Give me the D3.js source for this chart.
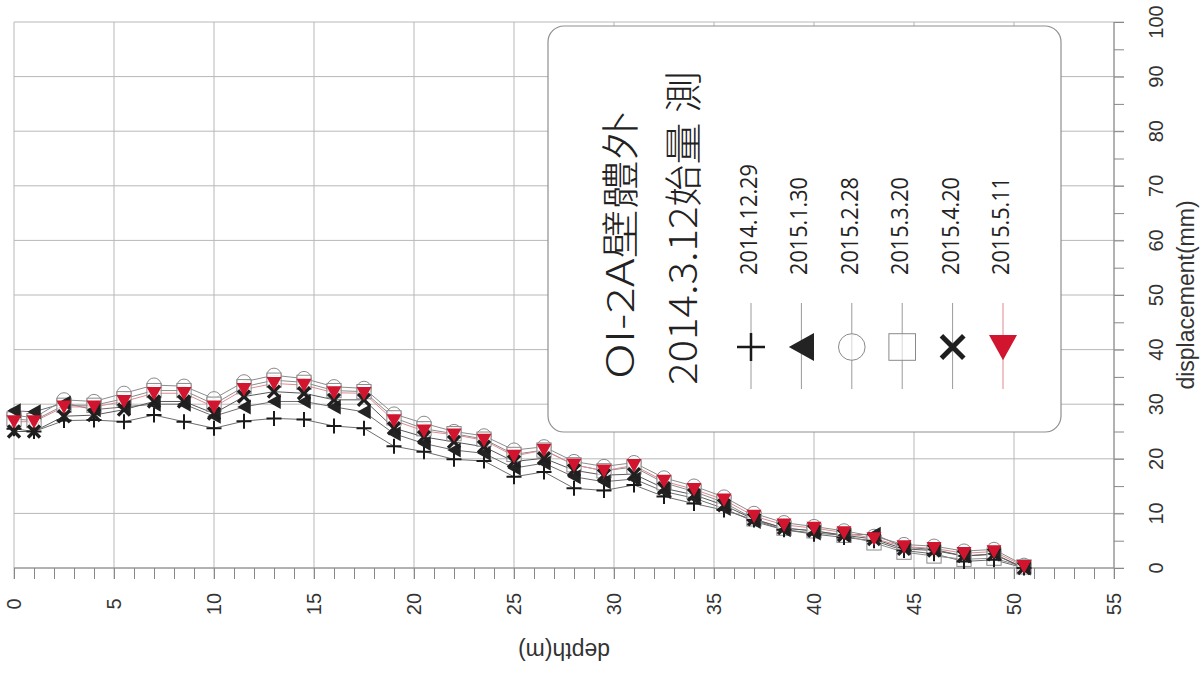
<!DOCTYPE html>
<html>
<head>
<meta charset="utf-8">
<script src="https://cdn.jsdelivr.net/npm/d3@7"></script>
<style>
  html, body { margin: 0; padding: 0; background: #fff; }
  svg { display: block; }
</style>
</head>
<body>
<svg id="chart" width="1200" height="675"></svg>
<script>
// ---------- DATA ----------
const depths = [0, 1, 2.5, 4, 5.5, 7, 8.5, 10, 11.5, 13, 14.5, 16, 17.5, 19, 20.5, 22, 23.5, 25, 26.5, 28, 29.5, 31, 32.5, 34, 35.5, 37, 38.5, 40, 41.5, 43, 44.5, 46, 47.5, 49, 50.5];

const seriesNames = ["2014.12.29", "2015.1.30", "2015.2.28", "2015.3.20", "2015.4.20", "2015.5.11"];

const s20141229 = [25.5, 25, 27, 27.1, 26.8, 28, 26.8, 25.6, 26.9, 27.4, 27.2, 26, 25.6, 22.3, 21.3, 19.9, 19.6, 16.7, 17.6, 14.6, 14.2, 15.2, 13.1, 11.8, 10.6, 8.8, 7, 6.2, 5.6, 5, 3.2, 2.6, 1.2, 1.5, 0];
const s20150130 = [28.8, 28.6, 30.2, 29, 29.5, 30, 30, 27.8, 29.5, 30.5, 30.5, 29.5, 28.6, 24.6, 22.8, 21.6, 21, 18.3, 19.2, 16.7, 15.8, 16.3, 14, 12.8, 10.9, 8.5, 7, 6.4, 6, 6.2, 3.8, 3.4, 2.2, 2.6, 0];
const s20150228 = [28, 27.5, 30.8, 30.5, 32, 33.5, 33.3, 31, 34.1, 35.3, 34.7, 33.2, 32.9, 28.2, 26.5, 25, 24.2, 21.6, 22.2, 19.5, 18.6, 19.3, 16.5, 15, 13, 10, 8.3, 7.6, 6.8, 5.8, 4.3, 4, 3.1, 3.4, 0.5];
const s20150320 = [27.3, 27, 29.8, 29.8, 31, 32.5, 32.5, 30, 33.2, 34.4, 34, 32.5, 32.3, 27.5, 25.5, 24.6, 23.6, 20.8, 21.6, 18.9, 17.8, 18.5, 15.6, 14, 12, 9, 7.3, 6.8, 6, 4.6, 2.9, 2.2, 1.6, 1.8, 0.2];
const s20150420 = [25, 25, 27.8, 28, 29, 30.5, 30.5, 28.3, 31.4, 32.3, 32, 30.8, 30.8, 25.6, 24, 23.1, 22.2, 19.5, 20.1, 17.9, 17, 17.2, 14.6, 13.4, 11.5, 8.9, 7.3, 6.8, 6, 5.3, 3.5, 3.2, 2.2, 2.5, 0];
const s20150511 = [26.8, 26.8, 29.5, 29.5, 30.5, 32, 32, 29.5, 32.7, 33.8, 33.5, 32.1, 32, 27, 25.1, 24.4, 23.4, 20.5, 21.6, 18.9, 17.8, 18.8, 15.9, 14.4, 12.5, 9.5, 7.9, 7.3, 6.5, 5.4, 3.9, 3.6, 2.7, 3.0, 0.3];

const xTicks = [0, 5, 10, 15, 20, 25, 30, 35, 40, 45, 50, 55];
const yTicks = [0, 10, 20, 30, 40, 50, 60, 70, 80, 90, 100];
const titleLine1 = "OI-2A壁體外";
const titleLine2 = "2014.3.12始量 測";
const xLabel = "depth(m)";
const yLabel = "displacement(mm)";

// ---------- SETUP ----------
const svg = d3.select("#chart");
const x = d3.scaleLinear().domain([0, 55]).range([14, 1114]);
const y = d3.scaleLinear().domain([0, 100]).range([568, 22]);

const gridColor = "#b8b8b8";
const axisColor = "#888";
const numFont = "'Liberation Sans', Arial, sans-serif";

// grid
const grid = svg.append("g");
grid.selectAll("line.v").data(xTicks).join("line")
  .attr("x1", d => x(d)).attr("x2", d => x(d))
  .attr("y1", y(100)).attr("y2", y(0) + 11)
  .attr("stroke", gridColor).attr("stroke-width", 1);
grid.selectAll("line.h").data(yTicks).join("line")
  .attr("x1", x(0)).attr("x2", x(55) + 10)
  .attr("y1", d => y(d)).attr("y2", d => y(d))
  .attr("stroke", gridColor).attr("stroke-width", 1);

// bottom axis (minor ticks every 1 m)
const xAxis = d3.axisBottom(x).tickValues(d3.range(0, 56, 1)).tickSize(11).tickFormat("");
const gx = svg.append("g").attr("transform", `translate(0,${y(0)})`).call(xAxis);
gx.select(".domain").attr("stroke", axisColor).attr("d", `M${x(0)},0H${x(55)}`);
gx.selectAll(".tick line").attr("stroke", axisColor);

// right axis (ticks every 5 mm)
const yAxis = d3.axisRight(y).tickValues(d3.range(0, 101, 5)).tickSize(10).tickFormat("");
const gy = svg.append("g").attr("transform", `translate(${x(55)},0)`).call(yAxis);
gy.select(".domain").attr("stroke", axisColor).attr("d", `M0,${y(0)}V${y(100)}`);
gy.selectAll(".tick line").attr("stroke", axisColor);

// tick labels (rotated)
svg.append("g").selectAll("text").data(xTicks).join("text")
  .attr("transform", d => `translate(${x(d)},604) rotate(-90)`)
  .attr("text-anchor", "middle").attr("dominant-baseline", "central")
  .attr("font-family", numFont).attr("font-size", 20).attr("fill", "#333")
  .text(d => d);
svg.append("g").selectAll("text").data(yTicks).join("text")
  .attr("transform", d => `translate(1156,${y(d)}) rotate(-90)`)
  .attr("text-anchor", "middle").attr("dominant-baseline", "central")
  .attr("font-family", numFont).attr("font-size", 20).attr("fill", "#333")
  .text(d => d);

// axis titles
svg.append("text")
  .attr("transform", `translate(${(x(0) + x(55)) / 2},651) rotate(180)`)
  .attr("text-anchor", "middle").attr("dominant-baseline", "central")
  .attr("font-family", numFont).attr("font-size", 23).attr("fill", "#333")
  .text(xLabel);
svg.append("text")
  .attr("transform", `translate(1186,${(y(0) + y(100)) / 2}) rotate(-90)`)
  .attr("text-anchor", "middle").attr("dominant-baseline", "central")
  .attr("font-family", numFont).attr("font-size", 23).attr("fill", "#333")
  .text(yLabel);

// ---------- MARKERS ----------
function drawMarker(g, kind, s) {
  if (kind === "plus") {
    g.append("path").attr("d", `M${-s},0H${s}M0,${-s}V${s}`)
      .attr("stroke", "#1a1a1a").attr("stroke-width", s > 10 ? 2.5 : 2).attr("fill", "none");
  } else if (kind === "triLeft") {
    g.append("path").attr("d", `M${-s * 0.9},0L${s * 0.9},${-s}L${s * 0.9},${s}Z`)
      .attr("fill", "#232323");
  } else if (kind === "circle") {
    g.append("circle").attr("r", s * 0.95)
      .attr("fill", "#fff").attr("fill-opacity", 0.6).attr("stroke", "#8a8a8a").attr("stroke-width", 1);
  } else if (kind === "square") {
    g.append("rect").attr("x", -s * 0.95).attr("y", -s * 0.95).attr("width", s * 1.9).attr("height", s * 1.9)
      .attr("fill", "#fff").attr("fill-opacity", 0.6).attr("stroke", "#8a8a8a").attr("stroke-width", 1);
  } else if (kind === "cross") {
    const k = s * 0.8;
    g.append("path").attr("d", `M${-k},${-k}L${k},${k}M${-k},${k}L${k},${-k}`)
      .attr("stroke", "#1f1f1f").attr("stroke-width", s > 10 ? 5 : 3.4).attr("fill", "none");
  } else if (kind === "triDown") {
    g.append("path").attr("d", `M${-s},${-s * 0.85}L${s},${-s * 0.85}L0,${s * 0.95}Z`)
      .attr("fill", "#d1152f");
  }
}

const series = [
  { name: seriesNames[0], values: s20141229, kind: "plus",    line: "#6e6e6e" },
  { name: seriesNames[1], values: s20150130, kind: "triLeft", line: "#6e6e6e" },
  { name: seriesNames[2], values: s20150228, kind: "circle",  line: "#8c8c8c" },
  { name: seriesNames[3], values: s20150320, kind: "square",  line: "#8c8c8c" },
  { name: seriesNames[4], values: s20150420, kind: "cross",   line: "#5a5a5a" },
  { name: seriesNames[5], values: s20150511, kind: "triDown", line: "#e08a90" }
];

// lines
const lineGen = d3.line().x(d => x(d[0])).y(d => y(d[1]));
svg.append("g").selectAll("path").data(series).join("path")
  .attr("d", s => lineGen(depths.map((dp, i) => [dp, s.values[i]])))
  .attr("fill", "none").attr("stroke", s => s.line).attr("stroke-width", 1);

// markers in draw order (open ones first, red last)
const order = [2, 3, 0, 1, 4, 5];
order.forEach(si => {
  const s = series[si];
  const g = svg.append("g");
  depths.forEach((dp, i) => {
    const mg = g.append("g").attr("transform", `translate(${x(dp)},${y(s.values[i])})`);
    drawMarker(mg, s.kind, 7.5);
  });
});

// ---------- LEGEND ----------
const lg = svg.append("g");
lg.append("rect").attr("x", 548).attr("y", 26).attr("width", 513).attr("height", 406)
  .attr("rx", 16).attr("ry", 16)
  .attr("fill", "#fff").attr("stroke", "#8f8f8f").attr("stroke-width", 1.2);

const cjkFont = "'Noto Sans CJK TC', 'Noto Sans CJK SC', sans-serif";
lg.append("text")
  .attr("transform", "translate(617,379) rotate(-90)")
  .attr("dominant-baseline", "central").attr("text-anchor", "start")
  .attr("font-family", cjkFont).attr("font-size", 38).attr("font-weight", 300).attr("fill", "#222")
  .attr("textLength", 268).attr("lengthAdjust", "spacingAndGlyphs")
  .text(titleLine1);
lg.append("text")
  .attr("transform", "translate(680,385) rotate(-90)")
  .attr("dominant-baseline", "central").attr("text-anchor", "start")
  .attr("font-family", cjkFont).attr("font-size", 38).attr("font-weight", 300).attr("fill", "#222")
  .attr("textLength", 314).attr("lengthAdjust", "spacingAndGlyphs")
  .text(titleLine2);

const legendX = d3.scalePoint().domain(seriesNames).range([751, 1003]);
series.forEach(s => {
  const cx = legendX(s.name);
  lg.append("line").attr("x1", cx).attr("x2", cx).attr("y1", 303).attr("y2", 389)
    .attr("stroke", s.kind === "triDown" ? "#e08a90" : "#9a9a9a").attr("stroke-width", 1);
  const mg = lg.append("g").attr("transform", `translate(${cx},347)`);
  drawMarker(mg, s.kind, 14);
  lg.append("text")
    .attr("transform", `translate(${cx - 3},275) rotate(-90)`)
    .attr("dominant-baseline", "central").attr("text-anchor", "start")
    .attr("font-family", "'Open Sans', 'Noto Sans', sans-serif").attr("font-size", 23).attr("fill", "#222")
    .attr("textLength", s.name.length === 10 ? 111 : 98).attr("lengthAdjust", "spacingAndGlyphs")
    .text(s.name);
});
</script>
</body>
</html>
